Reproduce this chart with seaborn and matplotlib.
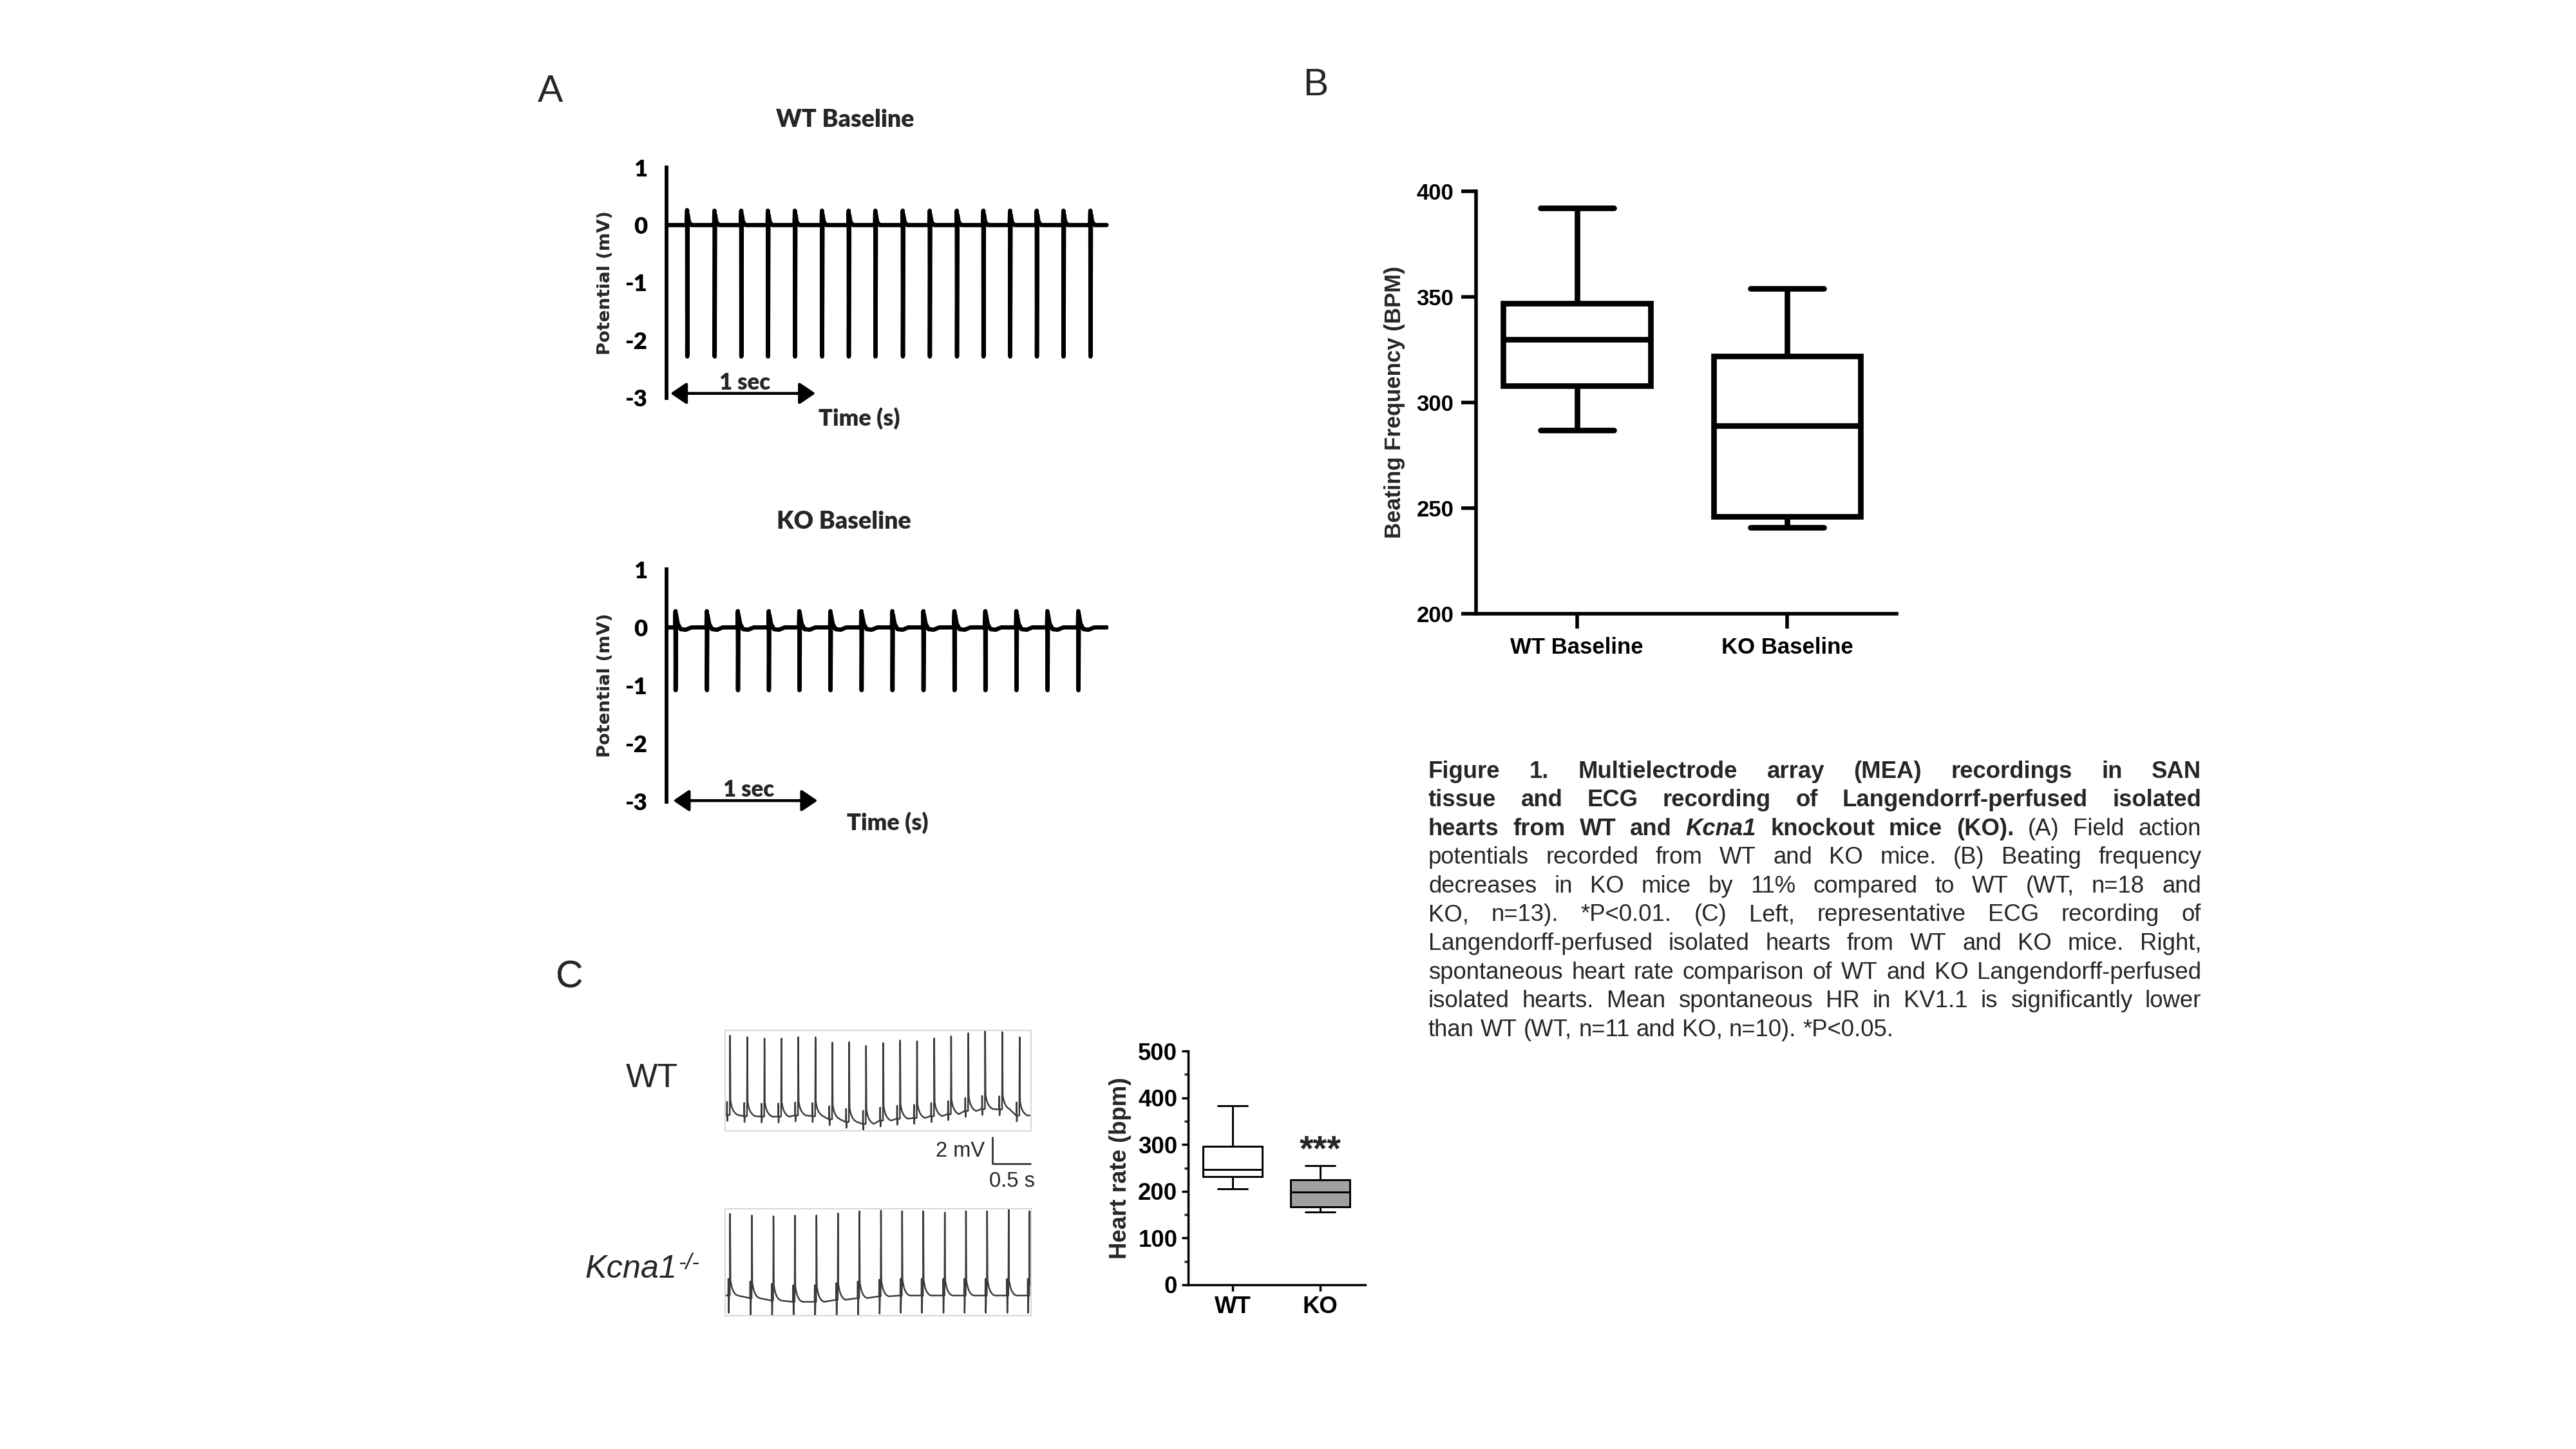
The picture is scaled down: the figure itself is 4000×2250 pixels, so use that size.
"""
Figure 1: MEA field potentials (A), beating frequency box plot (B),
ECG traces and heart-rate box plot (C), plus the figure legend.
"""

import numpy as np
import pandas as pd
import matplotlib
matplotlib.use("Agg")
import matplotlib.pyplot as plt
import seaborn as sns

# ---------------- panel A: MEA field potentials (s, mV) ----------------
wt_mea_spike_t = [0.143, 0.332, 0.516, 0.700, 0.886, 1.073, 1.257, 1.441,
                  1.630, 1.816, 2.003, 2.186, 2.370, 2.554, 2.738, 2.924]
wt_mea_peak = [0.26, 0.25, 0.25, 0.25, 0.25, 0.25, 0.25, 0.25,
               0.25, 0.25, 0.25, 0.25, 0.25, 0.25, 0.25, 0.25]
wt_mea_trough = [-2.28, -2.28, -2.28, -2.28, -2.28, -2.28, -2.28, -2.28,
                 -2.28, -2.28, -2.28, -2.28, -2.28, -2.28, -2.28, -2.28]
wt_mea_end = 3.035

ko_mea_spike_t = [0.063, 0.280, 0.495, 0.709, 0.921, 1.136, 1.351,
                  1.565, 1.780, 1.995, 2.209, 2.424, 2.639, 2.853]
ko_mea_peak = [0.28, 0.28, 0.28, 0.28, 0.28, 0.28, 0.28,
               0.28, 0.28, 0.28, 0.28, 0.28, 0.28, 0.28]
ko_mea_trough = [-1.08, -1.08, -1.08, -1.08, -1.08, -1.08, -1.08,
                 -1.08, -1.08, -1.08, -1.08, -1.08, -1.08, -1.08]
ko_mea_end = 3.05

# spike shape after the peak/trough (offset s, mV)
wt_tail_dt = [0.003, 0.012, 0.030]
wt_tail_v = [0.18, 0.05, 0.0]
ko_tail_dt = [0.003, 0.015, 0.035, 0.070, 0.110]
ko_tail_v = [0.22, 0.06, -0.03, -0.04, 0.0]

mea_ticks = [-3, -2, -1, 0, 1]

# ---------------- panel B: beating frequency (min, Q1, median, Q3, max) -----
mea_groups = ["WT Baseline", "KO Baseline"]
wt_bpm_summary = [287, 308, 330, 347, 392]
ko_bpm_summary = [241, 246, 289, 322, 354]

# ---------------- panel C: ECG traces (s, mV) ----------------
wt_ecg_r_t = [0.065, 0.291, 0.517, 0.739, 0.961, 1.187, 1.409, 1.630, 1.852,
              2.078, 2.300, 2.522, 2.748, 2.970, 3.196, 3.417, 3.643, 3.870]
wt_ecg_r_peak = [6.37, 6.24, 6.14, 6.14, 6.25, 6.24, 5.84, 5.86, 5.59,
                 5.80, 6.00, 5.94, 6.16, 6.31, 6.55, 6.76, 6.63, 6.24]
wt_ecg_base = [0.33, 0.24, 0.20, 0.20, 0.29, 0.24, 0.00, -0.20, -0.35,
               -0.10, 0.04, 0.10, 0.24, 0.39, 0.63, 0.78, 0.75, 0.29]
wt_ecg_end = 4.02

ko_ecg_r_t = [0.065, 0.352, 0.635, 0.917, 1.200, 1.483, 1.765, 2.048,
              2.326, 2.604, 2.887, 3.165, 3.443, 3.726, 4.000]
ko_ecg_r_peak = [6.37, 6.24, 6.18, 6.24, 6.25, 6.41, 6.57, 6.63,
                 6.57, 6.57, 6.47, 6.57, 6.57, 6.73, 6.57]
ko_ecg_base = [0.00, -0.20, -0.39, -0.49, -0.49, -0.33, -0.20, -0.06,
               0.00, 0.00, 0.00, 0.00, 0.00, 0.00, 0.00]
ko_ecg_end = 4.02

# beat shape around the R wave (offset s, mV above baseline; nan = R peak)
wt_beat_dt = [-0.048, -0.043, -0.040, -0.037, -0.032, -0.004, 0.0,
              0.005, 0.012, 0.025, 0.045, 0.070, 0.100]
wt_beat_v = [0.0, 0.0, 1.0, -0.45, 0.0, 0.0, np.nan,
             1.1, 0.85, 0.55, 0.30, 0.12, 0.0]
ko_beat_dt = [-0.030, -0.025, -0.022, -0.018, -0.013, -0.004, 0.0,
              0.005, 0.012, 0.025, 0.045, 0.070, 0.100]
ko_beat_v = [0.0, 0.0, 1.3, -1.35, 0.0, 0.0, np.nan,
             1.2, 0.95, 0.60, 0.30, 0.10, 0.0]

scalebar_mv = 2
scalebar_s = 0.5

# ---------------- panel C: heart rate (min, Q1, median, Q3, max) ----------
hr_groups = ["WT", "KO"]
wt_hr_summary = [205, 232, 247, 296, 383]
ko_hr_summary = [155, 167, 199, 225, 255]

# ---------------- figure legend ----------------
caption_lines = [
    [("Figure 1. Multielectrode array (MEA) recordings in SAN", "b")],
    [("tissue and ECG recording of Langendorrf-perfused isolated", "b")],
    [("hearts from WT and", "b"), ("Kcna1", "bi"),
     ("knockout mice (KO).", "b"), ("(A) Field action", "n")],
    [("potentials recorded from WT and KO mice. (B) Beating frequency", "n")],
    [("decreases in KO mice by 11% compared to WT (WT, n=18 and", "n")],
    [("KO, n=13). *P<0.01. (C) Left, representative ECG recording of", "n")],
    [("Langendorff-perfused isolated hearts from WT and KO mice. Right,", "n")],
    [("spontaneous heart rate comparison of WT and KO Langendorff-perfused", "n")],
    [("isolated hearts. Mean spontaneous HR in KV1.1 is significantly lower", "n")],
    [("than WT (WT, n=11 and KO, n=10). *P<0.05.", "n")],
]

W, H = 4000, 2250
DPI = 250


def rect(x0, y0, x1, y1):
    """Pixel box (top-left origin) -> figure fraction rect."""
    return [x0 / W, 1 - y1 / H, (x1 - x0) / W, (y1 - y0) / H]


def mea_trace(spike_t, peaks, troughs, tail_dt, tail_v, end):
    t, v = [0.0], [0.0]
    for st, pk, tr in zip(spike_t, peaks, troughs):
        t += [st - 0.004, st - 0.001, st]
        v += [0.0, pk, tr]
        t += [st + d for d in tail_dt]
        v += list(tail_v)
    t.append(end)
    v.append(0.0)
    return pd.DataFrame({"t": t, "mV": v})


def ecg_trace(r_t, r_peak, base, beat_dt, beat_v, end):
    t, v = [0.0], [base[0]]
    for rt, pk, b in zip(r_t, r_peak, base):
        for d, dv in zip(beat_dt, beat_v):
            t.append(rt + d)
            v.append(pk if np.isnan(dv) else b + dv)
    t.append(end)
    v.append(base[-1])
    return pd.DataFrame({"t": t, "mV": v})


def plot_mea(ax, df, title, title_xy, sec_xy, arrow_y, arrow_x0, time_xy, xmax):
    sns.lineplot(data=df, x="t", y="mV", ax=ax, color="black", lw=1.9,
                 sort=False, estimator=None)
    ax.set_xlim(0, xmax)
    ax.set_ylim(-3, 1)
    ax.set_yticks(mea_ticks)
    ax.set_yticklabels([str(v) for v in mea_ticks], fontfamily="Lato",
                       fontweight="heavy", fontsize=10.5)
    ax.set_xticks([])
    for s in ("top", "right", "bottom"):
        ax.spines[s].set_visible(False)
    ax.spines["left"].set_linewidth(1.7)
    ax.spines["left"].set_color("black")
    ax.tick_params(axis="y", direction="out", length=2.6, width=1.7, pad=6,
                   colors="black")
    ax.set_xlabel("")
    ax.set_ylabel("Potential (mV)", fontfamily="DejaVu Sans",
                  fontweight="bold", fontsize=7.9, labelpad=5)
    ax.text(title_xy[0], title_xy[1], title, ha="center", va="center",
            fontfamily="Lato", fontweight="heavy", fontsize=10.8, clip_on=False)
    ax.annotate("", xy=(arrow_x0 + 1.0, arrow_y), xytext=(arrow_x0, arrow_y),
                arrowprops=dict(arrowstyle="<|-|>,head_length=0.4,head_width=0.27",
                                color="black", lw=1.3, mutation_scale=15,
                                shrinkA=0, shrinkB=0),
                annotation_clip=False)
    ax.text(sec_xy[0], sec_xy[1], "1 sec", ha="center", va="center",
            fontfamily="Lato", fontweight="heavy", fontsize=10, clip_on=False)
    ax.text(time_xy[0], time_xy[1], "Time (s)", ha="center", va="center",
            fontfamily="Lato", fontweight="heavy", fontsize=10.4, clip_on=False)
    ax.patch.set_alpha(0)


def plot_box(ax, groups, summaries, colors, width, lw):
    df = pd.DataFrame({
        "group": [g for g, s in zip(groups, summaries) for _ in s],
        "value": [v for s in summaries for v in s],
    })
    sns.boxplot(data=df, x="group", y="value", hue="group", palette=colors,
                whis=(0, 100), width=width, linewidth=lw, linecolor="black",
                showfliers=False, saturation=1, legend=False, ax=ax)
    ax.set_xlabel("")
    for s in ("top", "right"):
        ax.spines[s].set_visible(False)
    ax.patch.set_alpha(0)


def plot_ecg(ax, df, ymin, ymax):
    sns.lineplot(data=df, x="t", y="mV", ax=ax, color="#3a3a3a", lw=0.7,
                 sort=False, estimator=None)
    ax.set_xlim(0, 4.02)
    ax.set_ylim(ymin, ymax)
    ax.set_xticks([])
    ax.set_yticks([])
    ax.set_xlabel("")
    ax.set_ylabel("")
    for s in ax.spines.values():
        s.set_visible(True)
        s.set_color("#d8d8d8")
        s.set_linewidth(0.6)


def draw_caption(fig, lines, x0, x1, y0, step, size):
    """Justified legend text, one text artist per word."""
    renderer = fig.canvas.get_renderer()
    fw = fig.bbox.width
    space = 0.278 * size * DPI / 72
    for k, segments in enumerate(lines):
        words = [(w, st) for txt, st in segments for w in txt.split()]
        y = 1 - (y0 + k * step) / H
        arts = [fig.text(0, y, w, fontsize=size, va="center", ha="left",
                         fontfamily="Liberation Sans",
                         fontweight="bold" if "b" in st else "normal",
                         fontstyle="italic" if "i" in st else "normal")
                for w, st in words]
        widths = [a.get_window_extent(renderer).width for a in arts]
        span = (x1 - x0) / W * fw
        last = k == len(lines) - 1
        gap = space if last else (span - sum(widths)) / (len(arts) - 1)
        x = x0 / W * fw
        for a, w in zip(arts, widths):
            a.set_x(x / fw)
            x += w + gap


def main() -> None:
    sns.set_theme(style="white")
    plt.rcParams["font.family"] = ["Liberation Sans", "DejaVu Sans"]
    plt.rcParams["axes.unicode_minus"] = False

    fig = plt.figure(figsize=(W / DPI, H / DPI), dpi=DPI, facecolor="white")

    # panel letters
    fig.text(855 / W, 1 - 143 / H, "A", fontsize=17, ha="center", va="center")
    fig.text(2043 / W, 1 - 133 / H, "B", fontsize=17, ha="center", va="center")
    fig.text(884 / W, 1 - 1518 / H, "C", fontsize=17, ha="center", va="center")

    # ---- A: WT / KO field potentials
    ax_wt = fig.add_axes(rect(1035, 260, 1724, 618))
    plot_mea(ax_wt, mea_trace(wt_mea_spike_t, wt_mea_peak, wt_mea_trough,
                              wt_tail_dt, wt_tail_v, wt_mea_end),
             "WT Baseline", (1.23, 1.83), (0.54, -2.74), -2.92, 0.027,
             (1.33, -3.35), 3.06)
    ax_ko = fig.add_axes(rect(1035, 884, 1721, 1245))
    plot_mea(ax_ko, mea_trace(ko_mea_spike_t, ko_mea_peak, ko_mea_trough,
                              ko_tail_dt, ko_tail_v, ko_mea_end),
             "KO Baseline", (1.23, 1.82), (0.57, -2.80), -2.98, 0.046,
             (1.53, -3.36), 3.06)

    # ---- B: beating frequency
    ax_b = fig.add_axes(rect(2292, 297, 2945, 953))
    plot_box(ax_b, mea_groups, [wt_bpm_summary, ko_bpm_summary],
             ["white", "white"], 0.70, 2.5)
    ax_b.set_xlim(-0.48, 1.52)
    ax_b.set_ylim(200, 400)
    ax_b.set_yticks([200, 250, 300, 350, 400])
    for s in ("left", "bottom"):
        ax_b.spines[s].set_linewidth(1.6)
        ax_b.spines[s].set_color("black")
    ax_b.tick_params(direction="out", length=6.5, width=1.6, colors="black",
                     labelsize=10, pad=3.5)
    ax_b.tick_params(axis="x", pad=4)
    ax_b.tick_params(left=True, bottom=True)
    for lab in ax_b.get_xticklabels() + ax_b.get_yticklabels():
        lab.set_fontweight("bold")
    ax_b.set_ylabel("Beating Frequency (BPM)", fontsize=10, fontweight="bold",
                    labelpad=5)

    # ---- C: ECG traces
    ax_e1 = fig.add_axes(rect(1126, 1600, 1601, 1756))
    plot_ecg(ax_e1, ecg_trace(wt_ecg_r_t, wt_ecg_r_peak, wt_ecg_base,
                              wt_beat_dt, wt_beat_v, wt_ecg_end), -0.88, 6.76)
    ax_e2 = fig.add_axes(rect(1126, 1877, 1601, 2043))
    plot_ecg(ax_e2, ecg_trace(ko_ecg_r_t, ko_ecg_r_peak, ko_ecg_base,
                              ko_beat_dt, ko_beat_v, ko_ecg_end), -1.57, 6.76)

    # scale bar under the WT trace
    sb_x, sb_y = 3.513, -1.37
    ax_e1.plot([sb_x, sb_x, sb_x + scalebar_s],
               [sb_y, sb_y - scalebar_mv, sb_y - scalebar_mv],
               color="#333333", lw=0.8, clip_on=False)
    ax_e1.text(sb_x - 0.10, sb_y - scalebar_mv / 2 - 0.05, "2 mV", ha="right",
               va="center", fontsize=9.4, clip_on=False)
    ax_e1.text(sb_x + scalebar_s * 0.52, sb_y - scalebar_mv - 1.35, "0.5 s",
               ha="center", va="center", fontsize=9.4, clip_on=False)

    fig.text(1012 / W, 1 - 1674 / H, "WT", fontsize=15, ha="center",
             va="center")
    kcna = fig.text(908 / W, 1 - 1984 / H, "Kcna1", fontsize=14.5,
                    fontstyle="italic", ha="left", va="baseline")
    ax_e2.annotate("-/-", xy=(1, 1), xycoords=kcna, xytext=(0.8, 0.8),
                   textcoords="offset points", ha="left", va="top",
                   fontsize=10, fontstyle="italic", annotation_clip=False)

    # ---- C: heart rate
    ax_h = fig.add_axes(rect(1845, 1632, 2120, 1995))
    plot_box(ax_h, hr_groups, [wt_hr_summary, ko_hr_summary],
             ["white", "#a0a0a0"], 0.67, 0.85)
    ax_h.set_xlim(-0.507, 1.515)
    ax_h.set_ylim(0, 500)
    ax_h.set_yticks([0, 100, 200, 300, 400, 500])
    ax_h.set_yticks([50, 150, 250, 350, 450], minor=True)
    for s in ("left", "bottom"):
        ax_h.spines[s].set_linewidth(1.0)
        ax_h.spines[s].set_color("black")
    ax_h.tick_params(direction="out", length=2.8, width=1.0, colors="black",
                     labelsize=10.5, pad=2)
    ax_h.tick_params(axis="y", which="minor", direction="out", length=1.6,
                     width=1.0, left=True)
    ax_h.tick_params(left=True, bottom=True)
    for lab in ax_h.get_xticklabels() + ax_h.get_yticklabels():
        lab.set_fontweight("bold")
    ax_h.set_ylabel("Heart rate (bpm)", fontsize=10.5, fontweight="bold",
                    labelpad=3)
    ax_h.text(1, 286, "***", ha="center", va="center", fontsize=16,
              fontweight="bold")

    # ---- legend text
    draw_caption(fig, caption_lines, 2218, 3418, 1198, 44.6, 10.5)

    fig.savefig("out.png", dpi=DPI, facecolor="white")
    plt.close(fig)


if __name__ == "__main__":
    main()
